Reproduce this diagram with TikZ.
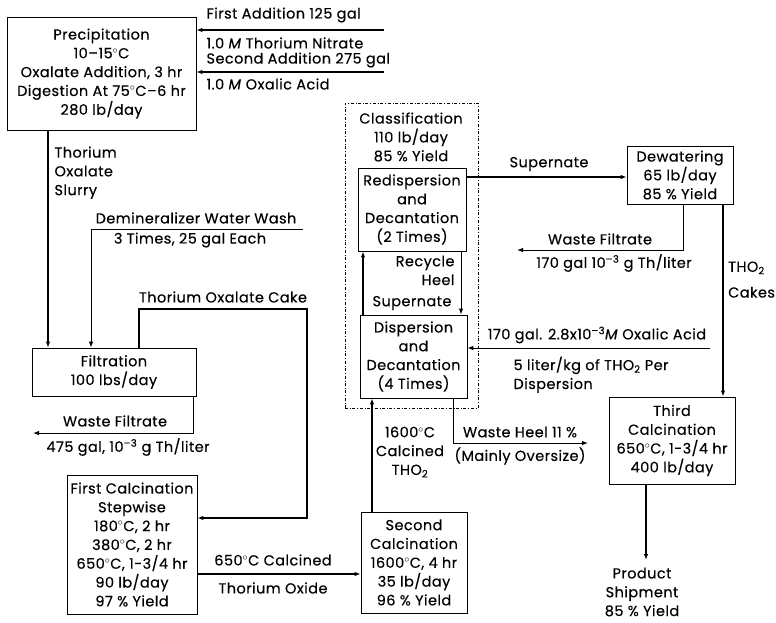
\documentclass[tikz,border=0pt]{standalone}
\usepackage{fontspec}
\setmainfont{Poppins}[LetterSpace=3,FakeBold=0.3]
\usetikzlibrary{arrows.meta}

\begin{document}
\begin{tikzpicture}[x=1pt,y=-1pt,
    font=\fontsize{14.5}{18.8}\selectfont,
    >={Latex[length=6pt,width=4.5pt]},
    box/.style={draw,line width=0.8pt,align=center,inner sep=0pt},
    heavy/.style={line width=2.4pt},
    light/.style={line width=1pt}]
    \useasboundingbox (0,0) rectangle (776,622);

    % process boxes
    \node[box,minimum width=189pt,minimum height=113pt] (prec) at (101.5,73.5) {Precipitation\\10--15$^\circ$C\\Oxalate Addition, 3 hr\\Digestion At 75$^\circ$C--6 hr\\280 lb/day};
    \node[box,minimum width=164pt,minimum height=48pt] (filt) at (114,372) {Filtration\\100 lbs/day};
    \node[box,minimum width=130pt,minimum height=139pt] (fcal) at (132,544.5) {First Calcination\\Stepwise\\180$^\circ$C, 2 hr\\380$^\circ$C, 2 hr\\650$^\circ$C, 1-3/4 hr\\90 lb/day\\97 \% Yield};
    \node[box,minimum width=106pt,minimum height=101pt] (scal) at (414,562.5) {Second\\Calcination\\1600$^\circ$C, 4 hr\\35 lb/day\\96 \% Yield};
    \node[draw,dash dot,line width=0.6pt,minimum width=133pt,minimum height=305pt] (classif) at (411.5,255.5) {};
    \node (classtxt) at (411,137) [align=center] {Classification\\110 lb/day\\85 \% Yield};
    \node[box,minimum width=108pt,minimum height=83pt] (redisp) at (412,209.5) {Redispersion\\and\\Decantation\\(2 Times)};
    \node[box,minimum width=107pt,minimum height=83pt] (disp) at (413.5,356.5) {Dispersion\\and\\Decantation\\(4 Times)};
    \node[box,minimum width=106pt,minimum height=58pt] (dew) at (680,175) {Dewatering\\65 lb/day\\85 \% Yield};
    \node[box,minimum width=126pt,minimum height=87pt] (tcal) at (672,440.5) {Third\\Calcination\\650$^\circ$C, 1-3/4 hr\\400 lb/day};

    % feeds to precipitation
    \coordinate (add1) at (384,30);
    \coordinate (add2) at (384,72);
    \path[draw,heavy,->] (add1) -- (add1 -| prec.east);
    \path[draw,heavy,->] (add2) -- (add2 -| prec.east);
    \node[anchor=west] (add1a) at (203,15) {First Addition 125 gal};
    \node[anchor=west] (add1b) at (203,43) {1.0 \textit{M} Thorium Nitrate};
    \node[anchor=west] (add2a) at (203,60) {Second Addition 275 gal};
    \node[anchor=west] (add2b) at (203,84) {1.0 \textit{M} Oxalic Acid};

    % slurry and wash to filtration
    \coordinate (slurry) at (48,0);
    \path[draw,heavy,->] (slurry |- prec.south) -- (slurry |- filt.north);
    \node[anchor=north west,align=left] (slurrytxt) at (51,143) {Thorium\\Oxalate\\Slurry};
    \coordinate (wash) at (303,229);
    \coordinate (washdrop) at (91,0);
    \path[draw,light,->] (wash) -| (washdrop |- filt.north);
    \node (washa) at (196,218) {Demineralizer Water Wash};
    \node (washb) at (190,240) {3 Times, 25 gal Each};

    % oxalate cake to first calcination
    \coordinate (cake) at (139,309);
    \coordinate (cakeR) at (307,309);
    \coordinate (cakein) at (0,518);
    \path[draw,heavy,->] (cake |- filt.north) -- (cake) -- (cakeR) |- (cakein -| fcal.east);
    \node (caketxt) at (223,297) {Thorium Oxalate Cake};

    % waste filtrate 1
    \coordinate (wf1x) at (193,0);
    \coordinate (wf1) at (33,433);
    \path[draw,light,->] (wf1x |- filt.south) |- (wf1);
    \node (wf1a) at (115,421) {Waste Filtrate};
    \node (wf1b) at (128,447) {475 gal, 10\textsuperscript{--3} g Th/liter};

    % first to second calcination
    \coordinate (calc650) at (0,574);
    \path[draw,heavy,->] (calc650 -| fcal.east) -- (calc650 -| scal.west);
    \node (c650a) at (273,560) {650$^\circ$C Calcined};
    \node (c650b) at (273,588) {Thorium Oxide};

    % second calcination to dispersion
    \coordinate (c1600) at (372,0);
    \path[draw,heavy,->] (c1600 |- scal.north) -- (c1600 |- disp.south);
    \node[align=center] (c1600txt) at (410,452) {1600$^\circ$C\\Calcined\\THO\textsubscript{2}};

    % classification loop
    \coordinate (up) at (363,0);
    \coordinate (down) at (461,0);
    \path[draw,heavy,->] (up |- disp.north) -- (up |- redisp.south);
    \path[draw,light,->] (down |- redisp.south) -- (down |- disp.north);
    \node[anchor=north east,align=right] (heel) at (458,252) {Recycle\\Heel};
    \node (supin) at (412,303) {Supernate};

    % supernate to dewatering
    \coordinate (sup) at (0,177);
    \path[draw,heavy,->] (sup -| redisp.east) -- (sup -| dew.west);
    \node (suptxt) at (549,164) {Supernate};

    % waste filtrate 2
    \coordinate (wf2x) at (683,0);
    \coordinate (wf2) at (517,250);
    \path[draw,light,->] (wf2x |- dew.south) |- (wf2);
    \node (wf2a) at (600,239) {Waste Filtrate};
    \node (wf2b) at (614,263) {170 gal 10\textsuperscript{--3} g Th/liter};

    % cakes to third calcination
    \coordinate (cakes) at (723,0);
    \path[draw,heavy,->] (cakes |- dew.south) -- (cakes |- tcal.north);
    \node[anchor=north west,align=left,inner xsep=1pt] (cakestxt) at (727,258) {THO\textsubscript{2}\\[7pt]Cakes};

    % oxalic acid to dispersion
    \coordinate (oxal) at (710,348);
    \path[draw,light,->] (oxal) -- (oxal -| disp.east);
    \node (oxala) at (597,335) {170 gal. 2.8x10\textsuperscript{--3}\textit{M} Oxalic Acid};
    \node[anchor=north west,align=left] (oxalb) at (510,353) {5 liter/kg of THO\textsubscript{2} Per\\Dispersion};

    % waste heel
    \coordinate (heelx) at (453,0);
    \coordinate (heelout) at (588,443);
    \path[draw,light,->] (heelx |- disp.south) |- (heelout);
    \node (heela) at (520,432) {Waste Heel 11 \%};
    \node (heelb) at (520,456) {(Mainly Oversize)};

    % product
    \coordinate (ship) at (646,560);
    \path[draw,heavy,->] (ship |- tcal.south) -- (ship);
    \node[align=center] (shiptxt) at (642,592) {Product\\Shipment\\85 \% Yield};
\end{tikzpicture}
\end{document}
